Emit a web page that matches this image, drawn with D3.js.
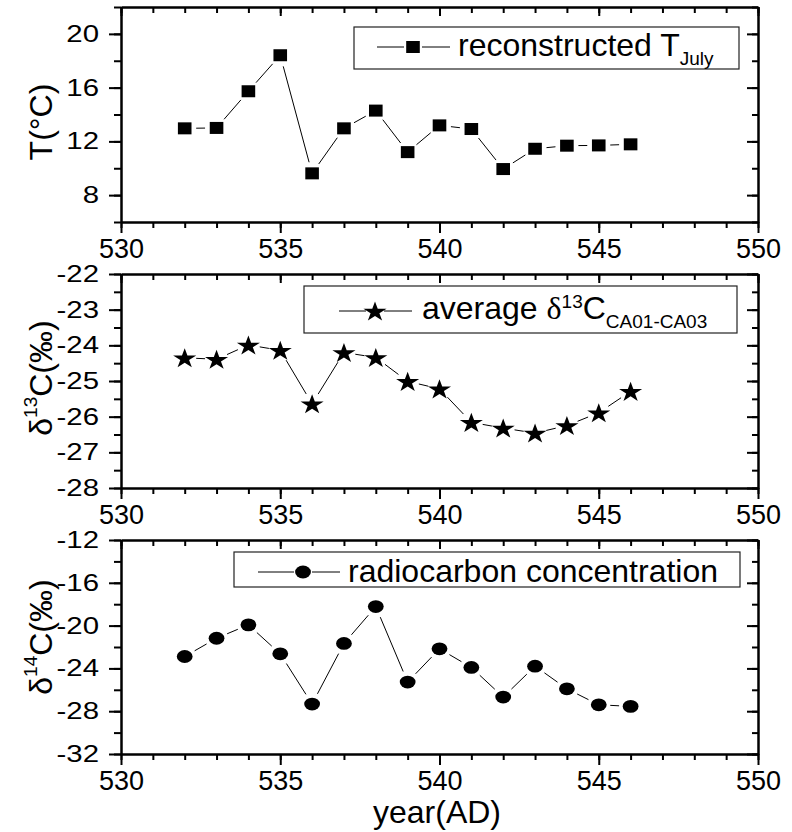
<!DOCTYPE html>
<html><head><meta charset="utf-8">
<script src="https://cdn.jsdelivr.net/npm/d3@7"></script>
<style>
body{margin:0;background:#fff}
text{font-family:"Liberation Sans",Arial,sans-serif;fill:#000}
</style>
</head><body>
<svg id="c" width="792" height="832"></svg>
<script>
// ---- data ----
const years = [532,533,534,535,536,537,538,539,540,541,542,543,544,545,546];
const tJuly = [12.97,13.0,15.73,18.41,9.62,12.97,14.29,11.2,13.19,12.92,9.94,11.45,11.68,11.70,11.78];
const d13C  = [-24.35,-24.39,-23.99,-24.14,-25.64,-24.2,-24.34,-25.01,-25.22,-26.16,-26.32,-26.46,-26.25,-25.89,-25.29];
const d14C  = [-22.89,-21.18,-19.93,-22.64,-27.33,-21.67,-18.22,-25.28,-22.17,-23.91,-26.68,-23.79,-25.91,-27.40,-27.55];
const xTicks = [530,535,540,545,550];
const tTicks = [8,12,16,20];
const d13Ticks = [-28,-27,-26,-25,-24,-23,-22];
const d14Ticks = [-32,-28,-24,-20,-16,-12];

const svg = d3.select("#c");
const SX = 1.25;
const x = d3.scaleLinear().domain([530,550]).range([121,758]);

const panels = [
  {vals:tJuly, domain:[6,22], ticks:tTicks, minorStep:2, top:7, bottom:222, marker:"square",
   title:[{t:"T(°C)"}], titleY:122,
   legend:{box:[354,27,739,69], lineY:47, line:[377,450], mx:413, textX:458, baseY:56,
     parts:[{t:"reconstructed T"},{t:"July",sub:true}]}},
  {vals:d13C, domain:[-28,-22], ticks:d13Ticks, minorStep:0.5, top:274, bottom:488, marker:"star",
   title:[{t:"δ"},{t:"13",sup:true},{t:"C(‰)"}], titleY:378,
   legend:{box:[304,286,737,333], lineY:311, line:[339,412], mx:375, textX:422, baseY:319,
     parts:[{t:"average "},{t:"δ",serif:true},{t:"13",sup:true},{t:"C"},{t:"CA01-CA03",sub:true}]}},
  {vals:d14C, domain:[-32,-12], ticks:d14Ticks, minorStep:2, top:540, bottom:754, marker:"circle",
   title:[{t:"δ"},{t:"14",sup:true},{t:"C(‰)"}], titleY:637,
   legend:{box:[234,552,740,587], lineY:572, line:[258,340], mx:303, textX:348, baseY:582,
     parts:[{t:"radiocarbon concentration"}]}}
];

function drawMarker(g, type, cx, cy){
  if(type==="square"){
    g.append("rect").attr("x",cx-6.8).attr("y",cy-6).attr("width",13.6).attr("height",12).attr("fill","#000");
  } else if(type==="circle"){
    g.append("ellipse").attr("cx",cx).attr("cy",cy).attr("rx",7.9).attr("ry",6.4).attr("fill","#000");
  } else {
    g.append("path").attr("d",d3.symbol(d3.symbolStar).size(125)())
      .attr("transform",`translate(${cx},${cy+1}) scale(1.15,1)`).attr("fill","#000");
  }
}

function styleAxis(g){
  g.selectAll("path.domain").attr("stroke","#000").attr("stroke-width",2);
  g.selectAll(".tick line").attr("stroke","#000").attr("stroke-width",2);
}

panels.forEach(p=>{
  const y = d3.scaleLinear().domain(p.domain).range([p.bottom,p.top]);
  const minor = d3.range(p.domain[0], p.domain[1]+1e-9, p.minorStep);
  const xMinor = d3.range(530,551,1);

  // minor ticks
  styleAxis(svg.append("g").attr("transform",`translate(0,${p.bottom})`)
    .call(d3.axisBottom(x).tickValues(xMinor).tickSize(6).tickSizeOuter(0).tickFormat("")));
  styleAxis(svg.append("g").attr("transform",`translate(0,${p.top})`)
    .call(d3.axisTop(x).tickValues(xMinor).tickSize(-6).tickSizeOuter(0).tickFormat("")));
  styleAxis(svg.append("g").attr("transform",`translate(121,0)`)
    .call(d3.axisLeft(y).tickValues(minor).tickSize(7).tickSizeOuter(0).tickFormat("")));
  styleAxis(svg.append("g").attr("transform",`translate(758,0)`)
    .call(d3.axisRight(y).tickValues(minor).tickSize(-6).tickSizeOuter(0).tickFormat("")));

  // major ticks
  const gb = svg.append("g").attr("transform",`translate(0,${p.bottom})`)
    .call(d3.axisBottom(x).tickValues(xTicks).tickSize(11).tickSizeOuter(0).tickPadding(6).tickFormat(d3.format("d")));
  styleAxis(gb);
  gb.selectAll(".tick text").attr("font-size",27).attr("font-family","Liberation Sans, Arial, sans-serif").attr("fill","#000");
  styleAxis(svg.append("g").attr("transform",`translate(0,${p.top})`)
    .call(d3.axisTop(x).tickValues(xTicks).tickSize(-9).tickSizeOuter(0).tickFormat("")));
  const gl = svg.append("g").attr("transform",`translate(121,0)`)
    .call(d3.axisLeft(y).tickValues(p.ticks).tickSize(12).tickSizeOuter(0).tickFormat(d3.format("d")));
  styleAxis(gl);
  gl.selectAll(".tick text").attr("font-size",23.5).attr("font-family","Liberation Sans, Arial, sans-serif").attr("fill","#000")
    .attr("x",-22/SX).attr("transform",`scale(${SX},1)`).text(d=>String(d).replace("−","-"));
  styleAxis(svg.append("g").attr("transform",`translate(758,0)`)
    .call(d3.axisRight(y).tickValues(p.ticks).tickSize(-11).tickSizeOuter(0).tickFormat("")));

  // connecting line segments with gaps
  const pts = years.map((yr,i)=>[x(yr), y(p.vals[i])]);
  const gap = 11.5;
  const seg = svg.append("g");
  for(let i=0;i<pts.length-1;i++){
    const [x1,y1]=pts[i],[x2,y2]=pts[i+1];
    const dx=x2-x1, dy=y2-y1, L=Math.hypot(dx,dy);
    if(L<=2*gap) continue;
    const ux=dx/L, uy=dy/L;
    seg.append("line").attr("x1",x1+ux*gap).attr("y1",y1+uy*gap)
      .attr("x2",x2-ux*gap).attr("y2",y2-uy*gap).attr("stroke","#000").attr("stroke-width",1);
  }
  const mg = svg.append("g");
  pts.forEach(([cx,cy])=>drawMarker(mg,p.marker,cx,cy));

  // y title
  const tt = svg.append("text").attr("transform",`translate(41,${p.titleY}) rotate(-90)`)
    .attr("text-anchor","middle").attr("dominant-baseline","central").attr("font-size",32);
  let shifted=false;
  p.title.forEach(part=>{
    const ts = tt.append("tspan").text(part.t);
    if(part.sup){ ts.attr("font-size",19).attr("dy",-11); shifted=true; }
    else if(shifted){ ts.attr("dy",11); shifted=false; }
  });

  // legend
  const L = p.legend;
  svg.append("rect").attr("x",L.box[0]).attr("y",L.box[1]).attr("width",L.box[2]-L.box[0]).attr("height",L.box[3]-L.box[1])
    .attr("fill","#fff").attr("stroke","#222").attr("stroke-width",1.2);
  svg.append("line").attr("x1",L.line[0]).attr("x2",L.mx-9).attr("y1",L.lineY).attr("y2",L.lineY).attr("stroke","#000").attr("stroke-width",1);
  svg.append("line").attr("x1",L.mx+9).attr("x2",L.line[1]).attr("y1",L.lineY).attr("y2",L.lineY).attr("stroke","#000").attr("stroke-width",1);
  drawMarker(svg.append("g"),p.marker,L.mx,L.lineY);
  const lt = svg.append("text").attr("x",L.textX).attr("y",L.baseY).attr("font-size",32);
  let off=0;
  L.parts.forEach(part=>{
    const ts = lt.append("tspan").text(part.t);
    let target = 0;
    if(part.serif){ ts.attr("font-family","Liberation Serif, Times New Roman, serif"); }
    if(part.sup){ ts.attr("font-size",19); target=-11; }
    else if(part.sub){ ts.attr("font-size",19); target=9; }
    if(target!==off){ ts.attr("dy",target-off); off=target; }
  });
});

// x title
svg.append("text").attr("x",437).attr("y",823).attr("text-anchor","middle").attr("font-size",32).text("year(AD)");
</script>
</body></html>
